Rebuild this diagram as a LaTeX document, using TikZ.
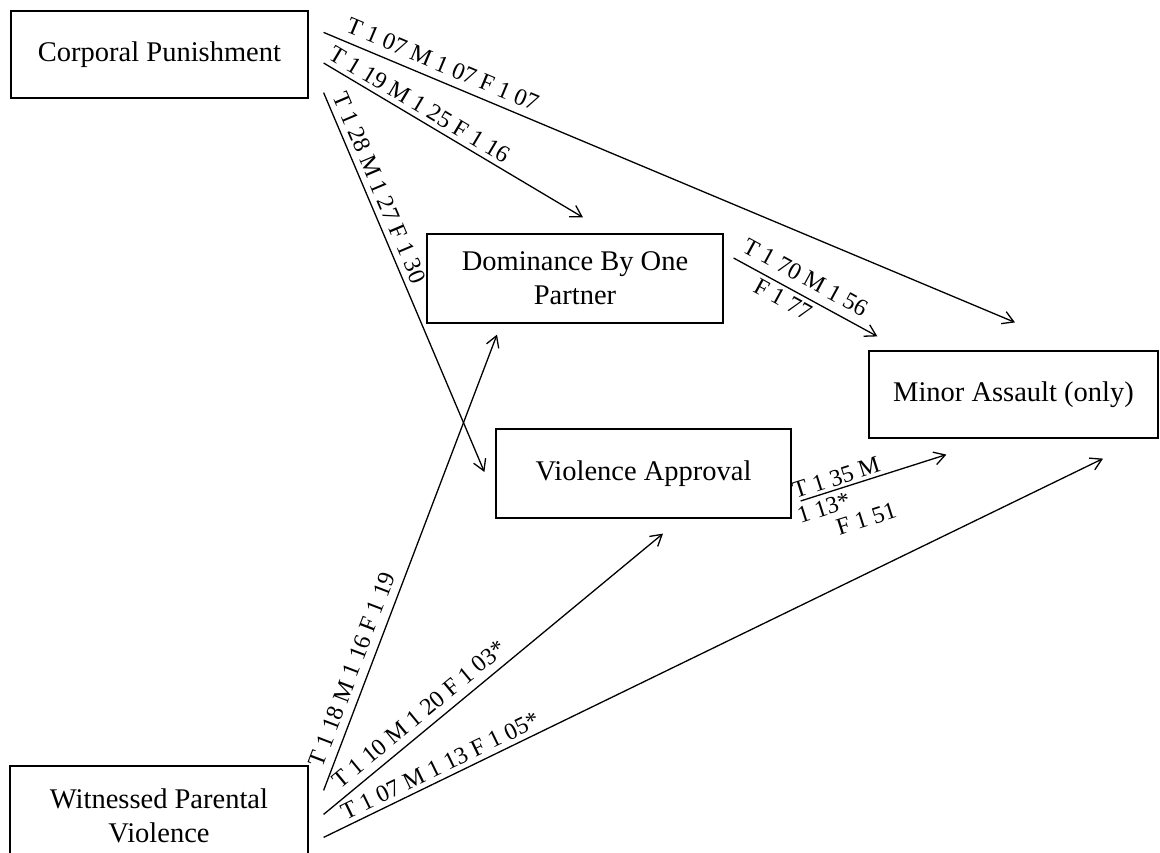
\documentclass[tikz,border=0pt]{standalone}
\usepackage{fontspec}
\setmainfont{Liberation Serif}
\usetikzlibrary{arrows.meta,calc}
\begin{document}
\begin{tikzpicture}[x=1pt,y=-1pt,
  box/.style={draw, line width=1.2pt, inner sep=0pt, align=center, font=\fontsize{28.5}{34}\selectfont},
  conn/.style={line width=1.3pt, -{Straight Barb[length=11pt,width=13pt,line width=1.3pt]}},
  lab/.style={sloped, inner sep=0pt, text depth=0pt, font=\fontsize{24}{28}\selectfont}]
\useasboundingbox (0,0) rectangle (1160,852);
\clip (0,0) rectangle (1160,852);
\fill[white] (0,0) rectangle (1160,852);
% boxes
\node[box, minimum width=297pt, minimum height=87pt] (cp) at (159.5,54.5) {Corporal Punishment};
\node[box, minimum width=296pt, minimum height=89pt] (dom) at (575,278.5) {Dominance By One\\Partner};
\node[box, minimum width=295pt, minimum height=89pt] (va) at (643.5,473.5) {Violence Approval};
\node[box, minimum width=289pt, minimum height=87pt] (ma) at (1013.5,394.5) {Minor Assault (only)};
\node[box, minimum width=298pt, minimum height=100pt] (wpv) at (159,816) {Witnessed Parental\\Violence};
% connectors
\draw[conn] ($(cp.north east)+(15,22)$) -- node[lab,pos=.163,above=8pt]{T 1 07 M 1 07 F 1 07} ($(ma.north)+(1.5,-28)$);
\draw[conn] ($(cp.east)+(15,8.5)$) -- node[lab,pos=.343,above=5pt]{T 1 19 M 1 25 F 1 16} ($(dom.north)+(8,-16)$);
\draw[conn] ($(cp.south east)+(15,-6)$) -- node[lab,pos=.265,above=6pt]{T 1 28 M 1 27 F 1 30} ($(va.west)+(-11,-1.5)$);
\draw[conn] ($(dom.east)+(10,-20.5)$) -- node[lab,pos=.441,above=9pt]{T 1 70 M 1 56} node[lab,pos=.385,below=4pt]{F 1 77} ($(ma.north west)+(9,-14)$);
\draw[conn] ($(va.east)+(9,27.5)$) -- node[lab,pos=.268,above=3pt]{T 1 35 M} node[lab,pos=.13,below=5pt]{1 13*} node[lab,pos=.374,below=28pt]{F 1 51} ($(ma.south west)+(78,16)$);
\draw[conn] ($(wpv.north east)+(15,25)$) -- node[lab,pos=.252,above=8pt]{T 1 18 M 1 16 F 1 19} ($(dom.south)+(-78,11)$);
\draw[conn] ($(wpv.north east)+(15,49)$) -- node[lab,pos=.312,above=8pt]{T 1 10 M 1 20 F 1 03*} ($(va.south)+(19.5,15)$);
\draw[conn] ($(wpv.north east)+(15,72)$) -- node[lab,pos=.157,above=5pt]{T 1 07 M 1 13 F 1 05*} ($(ma.south)+(89.5,20)$);
\end{tikzpicture}
\end{document}
